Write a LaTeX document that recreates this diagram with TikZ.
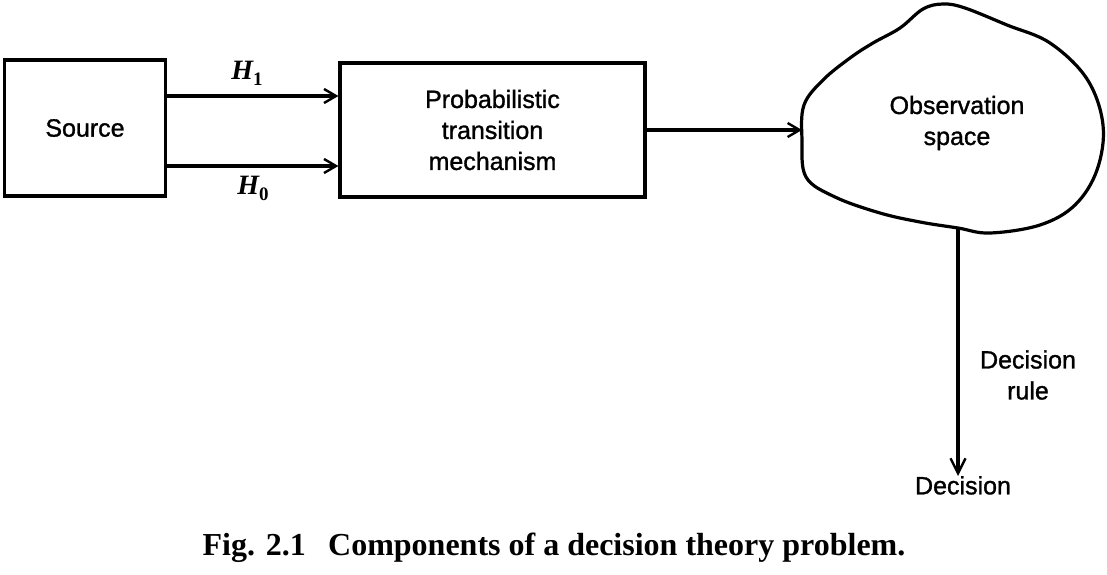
\documentclass[tikz,border=0pt]{standalone}
\usepackage{fontspec}
\setsansfont[FakeBold=1.2]{Liberation Sans}
\newfontfamily\capfont{Liberation Serif}
\usetikzlibrary{arrows.meta}
\newcommand{\hyplabel}[1]{{\capfont\bfseries\itshape H}\raisebox{-6pt}{\capfont\bfseries\fontsize{19}{19}\selectfont #1}}
\begin{document}
\begin{tikzpicture}[x=1pt,y=-1pt,
  lbl/.style={font=\sffamily\fontsize{25}{31}\selectfont, align=center, inner sep=0pt},
  blk/.style={draw, line width=3.2pt, inner sep=0pt},
  conn/.style={line width=3.2pt, -{Straight Barb[length=12pt,width=14pt,line width=2.4pt]}},
  hyp/.style={font=\fontsize{28}{30}\selectfont, inner sep=0pt}]
\useasboundingbox (0,0) rectangle (1107,574);
\node[blk, minimum width=161pt, minimum height=136pt] (src) at (85,128) {};
\node[lbl] at (src.center) {Source};
\node[blk, minimum width=305pt, minimum height=134pt] (prob) at (492.5,130) {};
\node[lbl] at (prob.center) {Probabilistic\\transition\\mechanism};
\draw[line width=3.2pt] plot[smooth cycle, tension=0.6] coordinates {
 (802,140) (804,105) (823,80) (850,58) (873,43) (900,28) (923,9) (943,4) (965,8)
 (1007,25) (1050,43) (1087,79) (1103,125) (1097,170) (1075,205) (1040,225)
 (990,233) (958,228) (920,222) (880,213) (835,197) (806,177)};
\node[lbl] (obs) at (957,123) {Observation\\space};
\coordinate (blobin) at (802,130);
\coordinate (blobout) at (958,229);
\node[lbl, anchor=north] (dec) at (963,476) {Decision};
\node[lbl] (rule) at (1028,375) {Decision\\rule};
\draw[conn] (src.east |- 0,96) -- (prob.west |- 0,96);
\draw[conn] (src.east |- 0,166) -- (prob.west |- 0,166);
\node[hyp] (h1) at (247,73) {\hyplabel{1}};
\node[hyp] (h0) at (253,188) {\hyplabel{0}};
\draw[conn] (prob.east |- 0,130) -- (blobin);
\draw[line width=3.2pt, -{Straight Barb[length=15pt,width=15pt,line width=2.4pt]}] (blobout) -- (blobout |- dec.north);
\node[font=\capfont\bfseries\fontsize{32}{36}\selectfont, inner sep=0pt] (cap) at (554,548) {Fig. 2.1\hspace{0.7em}Components of a decision theory problem.};
\end{tikzpicture}
\end{document}
